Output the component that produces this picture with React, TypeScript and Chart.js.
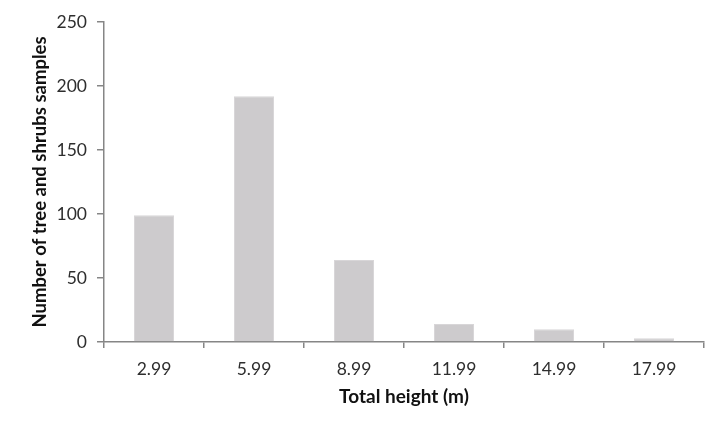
import React, { useEffect, useRef } from "react";
import { Chart, registerables } from "chart.js";

Chart.register(...registerables);

const categories = ["2.99", "5.99", "8.99", "11.99", "14.99", "17.99"];
const samples = [99, 192, 64, 14, 10, 3];
const yMin = 0;
const yMax = 250;
const yStep = 50;

export default function App() {
  const ref = useRef<HTMLCanvasElement>(null);
  useEffect(() => {
    if (!ref.current) return;
    const axisColor = "#868686";
    const chart = new Chart(ref.current, {
      type: "bar",
      data: {
        labels: categories,
        datasets: [
          {
            data: samples,
            backgroundColor: "#cdcbcd",
            borderColor: "#d8d6d8",
            borderWidth: 1,
            barPercentage: 0.4,
            categoryPercentage: 1,
          },
        ],
      },
      options: {
        animation: false,
        responsive: false,
        maintainAspectRatio: false,
        layout: { padding: { left: 0, right: 22, top: 22, bottom: 0 } },
        plugins: { legend: { display: false }, tooltip: { enabled: false } },
        scales: {
          x: {
            grid: {
              drawOnChartArea: false,
              drawTicks: true,
              tickLength: 6,
              color: axisColor,
              lineWidth: 1.5,
              offset: true,
            },
            border: { display: true, color: axisColor, width: 1.5 },
            ticks: {
              color: "#2e2e2e",
              font: { family: "Lato", size: 17.5 },
              padding: 11,
            },
            title: {
              display: true,
              text: "Total height (m)",
              color: "#111",
              font: { family: "Lato", size: 19, weight: "bold" },
              padding: { top: 0, bottom: 25.5 },
            },
            afterFit: (s: any) => {
              s.height = 92;
            },
          },
          y: {
            min: yMin,
            max: yMax,
            grid: {
              drawOnChartArea: false,
              drawTicks: true,
              tickLength: 7,
              color: axisColor,
              lineWidth: 1.5,
            },
            border: { display: true, color: axisColor, width: 1.5 },
            ticks: {
              stepSize: yStep,
              color: "#2e2e2e",
              font: { family: "Lato", size: 17.5 },
              padding: 10,
            },
            title: {
              display: true,
              text: "Number of tree and shrubs samples",
              color: "#111",
              font: { family: "Lato", size: 18.5, weight: "bold" },
              padding: { top: 29, bottom: 0 },
            },
            afterFit: (s: any) => {
              s.width = 104;
            },
          },
        },
      },
    });
    return () => chart.destroy();
  }, []);
  return (
    <div style={{ position: "absolute", left: 0, top: 0, width: 726, height: 434, background: "#fff" }}>
      <canvas ref={ref} width={726} height={434} style={{ width: 726, height: 434 }} />
    </div>
  );
}
